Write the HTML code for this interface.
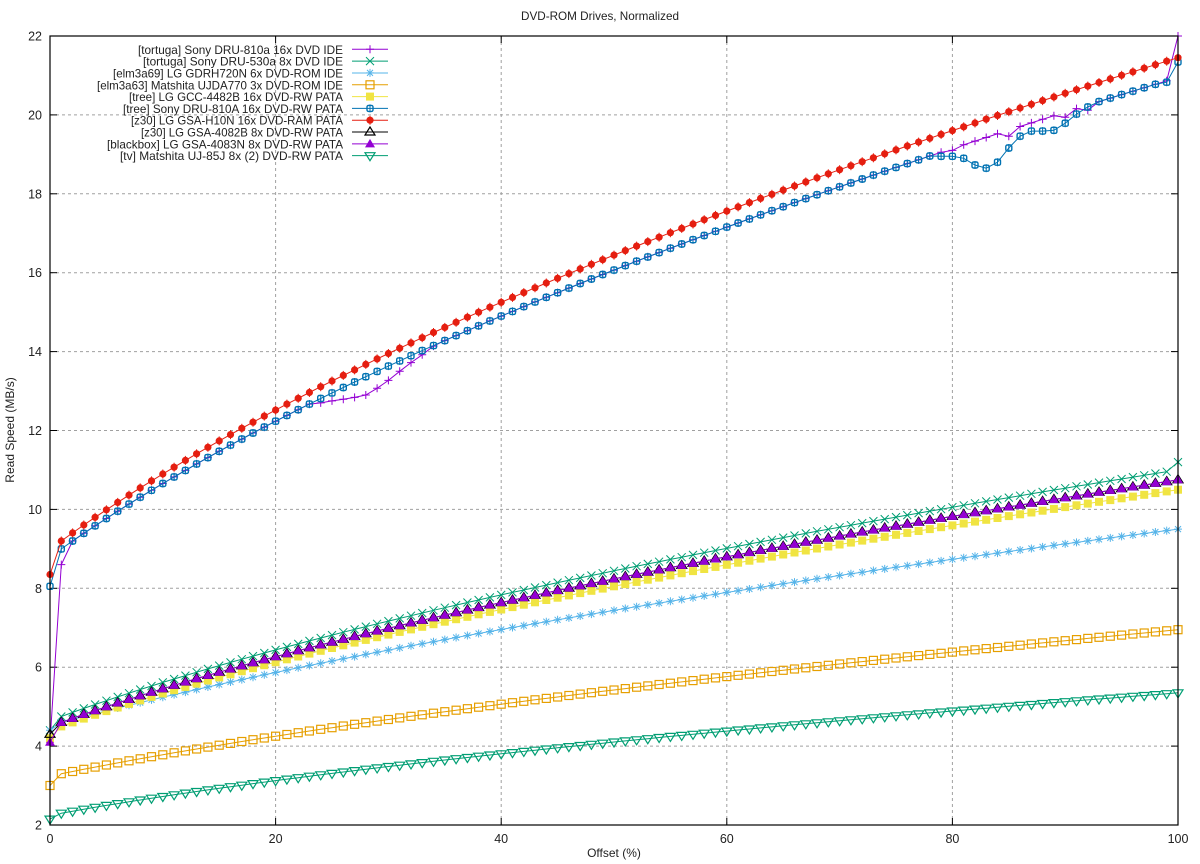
<!DOCTYPE html>
<html><head><meta charset="utf-8"><style>
html,body{margin:0;padding:0;background:#fff;}
svg{display:block;font-family:"Liberation Sans",sans-serif;}
</style></head><body>
<svg id="s" width="1200" height="864" xmlns="http://www.w3.org/2000/svg"></svg>
<script>
var X0=50,X1=1178,Y0=825,Y1=36;
function px(x){return X0+(X1-X0)*x/100;}
function py(v){return Y0-(Y0-Y1)*(v-2)/20;}
var h='';
for(var i=1;i<=4;i++){var x=px(i*20);h+='<line x1="'+x+'" y1="'+Y1+'" x2="'+x+'" y2="'+Y0+'" stroke="#a0a0a0" stroke-dasharray="3,3" stroke-width="1"/>';}
for(var v=4;v<=20;v+=2){var y=py(v);h+='<line x1="'+X0+'" y1="'+y+'" x2="'+X1+'" y2="'+y+'" stroke="#a0a0a0" stroke-dasharray="3,3" stroke-width="1"/>';}
for(var v=2;v<=22;v+=2){var y=py(v);h+='<line x1="'+X0+'" y1="'+y+'" x2="'+(X0+7)+'" y2="'+y+'" stroke="#000"/><line x1="'+X1+'" y1="'+y+'" x2="'+(X1-7)+'" y2="'+y+'" stroke="#000"/>';
h+='<text x="'+(X0-8)+'" y="'+(y+4.5)+'" font-size="12.5" text-anchor="end" fill="#222">'+v+'</text>';}
for(var i=0;i<=5;i++){var x=px(i*20);h+='<line x1="'+x+'" y1="'+Y0+'" x2="'+x+'" y2="'+(Y0-7)+'" stroke="#000"/><line x1="'+x+'" y1="'+Y1+'" x2="'+x+'" y2="'+(Y1+7)+'" stroke="#000"/>';
h+='<text x="'+x+'" y="'+(Y0+18)+'" font-size="12.5" text-anchor="middle" fill="#222">'+(i*20)+'</text>';}
h+='<text x="600" y="20" font-size="12" text-anchor="middle" fill="#222" textLength="158" lengthAdjust="spacingAndGlyphs">DVD-ROM Drives, Normalized</text>';
h+='<text x="614" y="857" font-size="12" text-anchor="middle" fill="#222">Offset (%)</text>';
h+='<text transform="translate(14,430) rotate(-90)" font-size="12" text-anchor="middle" fill="#222">Read Speed (MB/s)</text>';
function curve(v0,v1,v100,ov){var B=(v100*v100-v1*v1)/99,A=v1*v1-B,a=[];for(var x=0;x<=100;x++){a.push(x==0?v0:Math.sqrt(A+B*x));}if(ov)for(var k in ov)a[k]=ov[k];return a;}
var blueOv={79:18.95,80:18.95,81:18.9,82:18.73,83:18.65,84:18.8,85:19.16,86:19.46,87:19.59,88:19.59,89:19.61,90:19.79,91:20.02,92:20.2,99:20.83,100:21.34};
var purOv={1:8.6,24:12.70,25:12.75,26:12.79,27:12.84,28:12.9,29:13.07,30:13.27,31:13.5,32:13.72,33:13.92,34:14.14,80:19.1,85:19.46,90:19.94,92:20.12,100:22};
var S=[
["[tortuga] Sony DRU-810a 16x DVD IDE","#9400d3",1,curve(4.1,9.0,20.95,purOv),205],
["[tortuga] Sony DRU-530a 8x DVD IDE","#009e73",2,curve(4.4,4.75,11.0,{100:11.2}),200],
["[elm3a69] LG GDRH720N 6x DVD-ROM IDE","#56b4e9",3,curve(4.4,4.6,9.5),230],
["[elm3a63] Matshita UJDA770 3x DVD-ROM IDE","#e69f00",4,curve(3.0,3.3,6.95),246],
["[tree] LG GCC-4482B 16x DVD-RW PATA","#f0e442",5,curve(4.2,4.5,10.5),214],
["[tree] Sony DRU-810A 16x DVD-RW PATA","#0072b2",6,curve(8.05,9.0,20.95,blueOv),220],
["[z30] LG GSA-H10N 16x DVD-RAM PATA","#e51e10",7,curve(8.35,9.2,21.45),212],
["[z30] LG GSA-4082B 8x DVD-RW PATA","#000000",8,curve(4.3,4.6,10.75),202],
["[blackbox] LG GSA-4083N 8x DVD-RW PATA","#9400d3",9,curve(4.1,4.6,10.75),236],
["[tv] Matshita UJ-85J 8x (2) DVD-RW PATA","#009e73",10,curve(2.15,2.3,5.35),223]];
function mk(t,x,y,c){var r=4;x=+x.toFixed(1);y=+y.toFixed(1);
switch(t){
case 1:return '<path d="M'+(x-r)+' '+y+'h'+2*r+'M'+x+' '+(y-r)+'v'+2*r+'" stroke="'+c+'" fill="none"/>';
case 2:return '<path d="M'+(x-r)+' '+(y-r)+'l'+2*r+' '+2*r+'M'+(x-r)+' '+(y+r)+'l'+2*r+' '+(-2*r)+'" stroke="'+c+'" fill="none"/>';
case 3:return '<path d="M'+(x-r)+' '+y+'h'+2*r+'M'+x+' '+(y-r)+'v'+2*r+'M'+(x-3)+' '+(y-3)+'l6 6M'+(x-3)+' '+(y+3)+'l6 -6" stroke="'+c+'" fill="none"/>';
case 4:return '<rect x="'+(x-r)+'" y="'+(y-r)+'" width="'+2*r+'" height="'+2*r+'" stroke="'+c+'" fill="none" stroke-width="1.2"/>';
case 5:return '<rect x="'+(x-r)+'" y="'+(y-r)+'" width="'+2*r+'" height="'+2*r+'" fill="'+c+'"/>';
case 6:return '<rect x="'+(x-3)+'" y="'+(y-3)+'" width="6" height="6" rx="1.5" stroke="'+c+'" fill="none" stroke-width="1.4"/><path d="M'+x+' '+(y-4)+'v8" stroke="'+c+'"/>';
case 7:return '<circle cx="'+x+'" cy="'+y+'" r="3.6" fill="'+c+'"/><path d="M'+x+' '+(y-4.5)+'v9" stroke="'+c+'"/>';
case 8:return '<path d="M'+x+' '+(y-r-1)+'L'+(x+r+1)+' '+(y+r-1)+'L'+(x-r-1)+' '+(y+r-1)+'Z" stroke="'+c+'" fill="none" stroke-width="1.2"/>';
case 9:return '<path d="M'+x+' '+(y-r-1)+'L'+(x+r+1)+' '+(y+r-0.5)+'L'+(x-r-1)+' '+(y+r-0.5)+'Z" fill="'+c+'"/>';
case 10:return '<path d="M'+x+' '+(y+r+1)+'L'+(x+r+1)+' '+(y-r+1)+'L'+(x-r-1)+' '+(y-r+1)+'Z" stroke="'+c+'" fill="none" stroke-width="1.2"/>';}}
S.forEach(function(s,i){var d='',m='';s[3].forEach(function(v,x){d+=(x?'L':'M')+px(x).toFixed(1)+' '+py(v).toFixed(1);m+=mk(s[2],px(x),py(v),s[1]);});
h+='<path d="'+d+'" stroke="'+s[1]+'" fill="none" stroke-width="1"/>'+m;
var ly=49.3+i*11.82;h+='<text x="343" y="'+(ly+4.5)+'" font-size="12" text-anchor="end" fill="#222" textLength="'+s[4]+'" lengthAdjust="spacingAndGlyphs">'+s[0]+'</text>';
h+='<line x1="352" y1="'+ly+'" x2="388" y2="'+ly+'" stroke="'+s[1]+'"/>'+mk(s[2],370,ly,s[1]);});
h+='<rect x="'+X0+'" y="'+Y1+'" width="'+(X1-X0)+'" height="'+(Y0-Y1)+'" fill="none" stroke="#000" stroke-width="1.2"/>';
document.getElementById('s').innerHTML=h;
</script>
</body></html>
